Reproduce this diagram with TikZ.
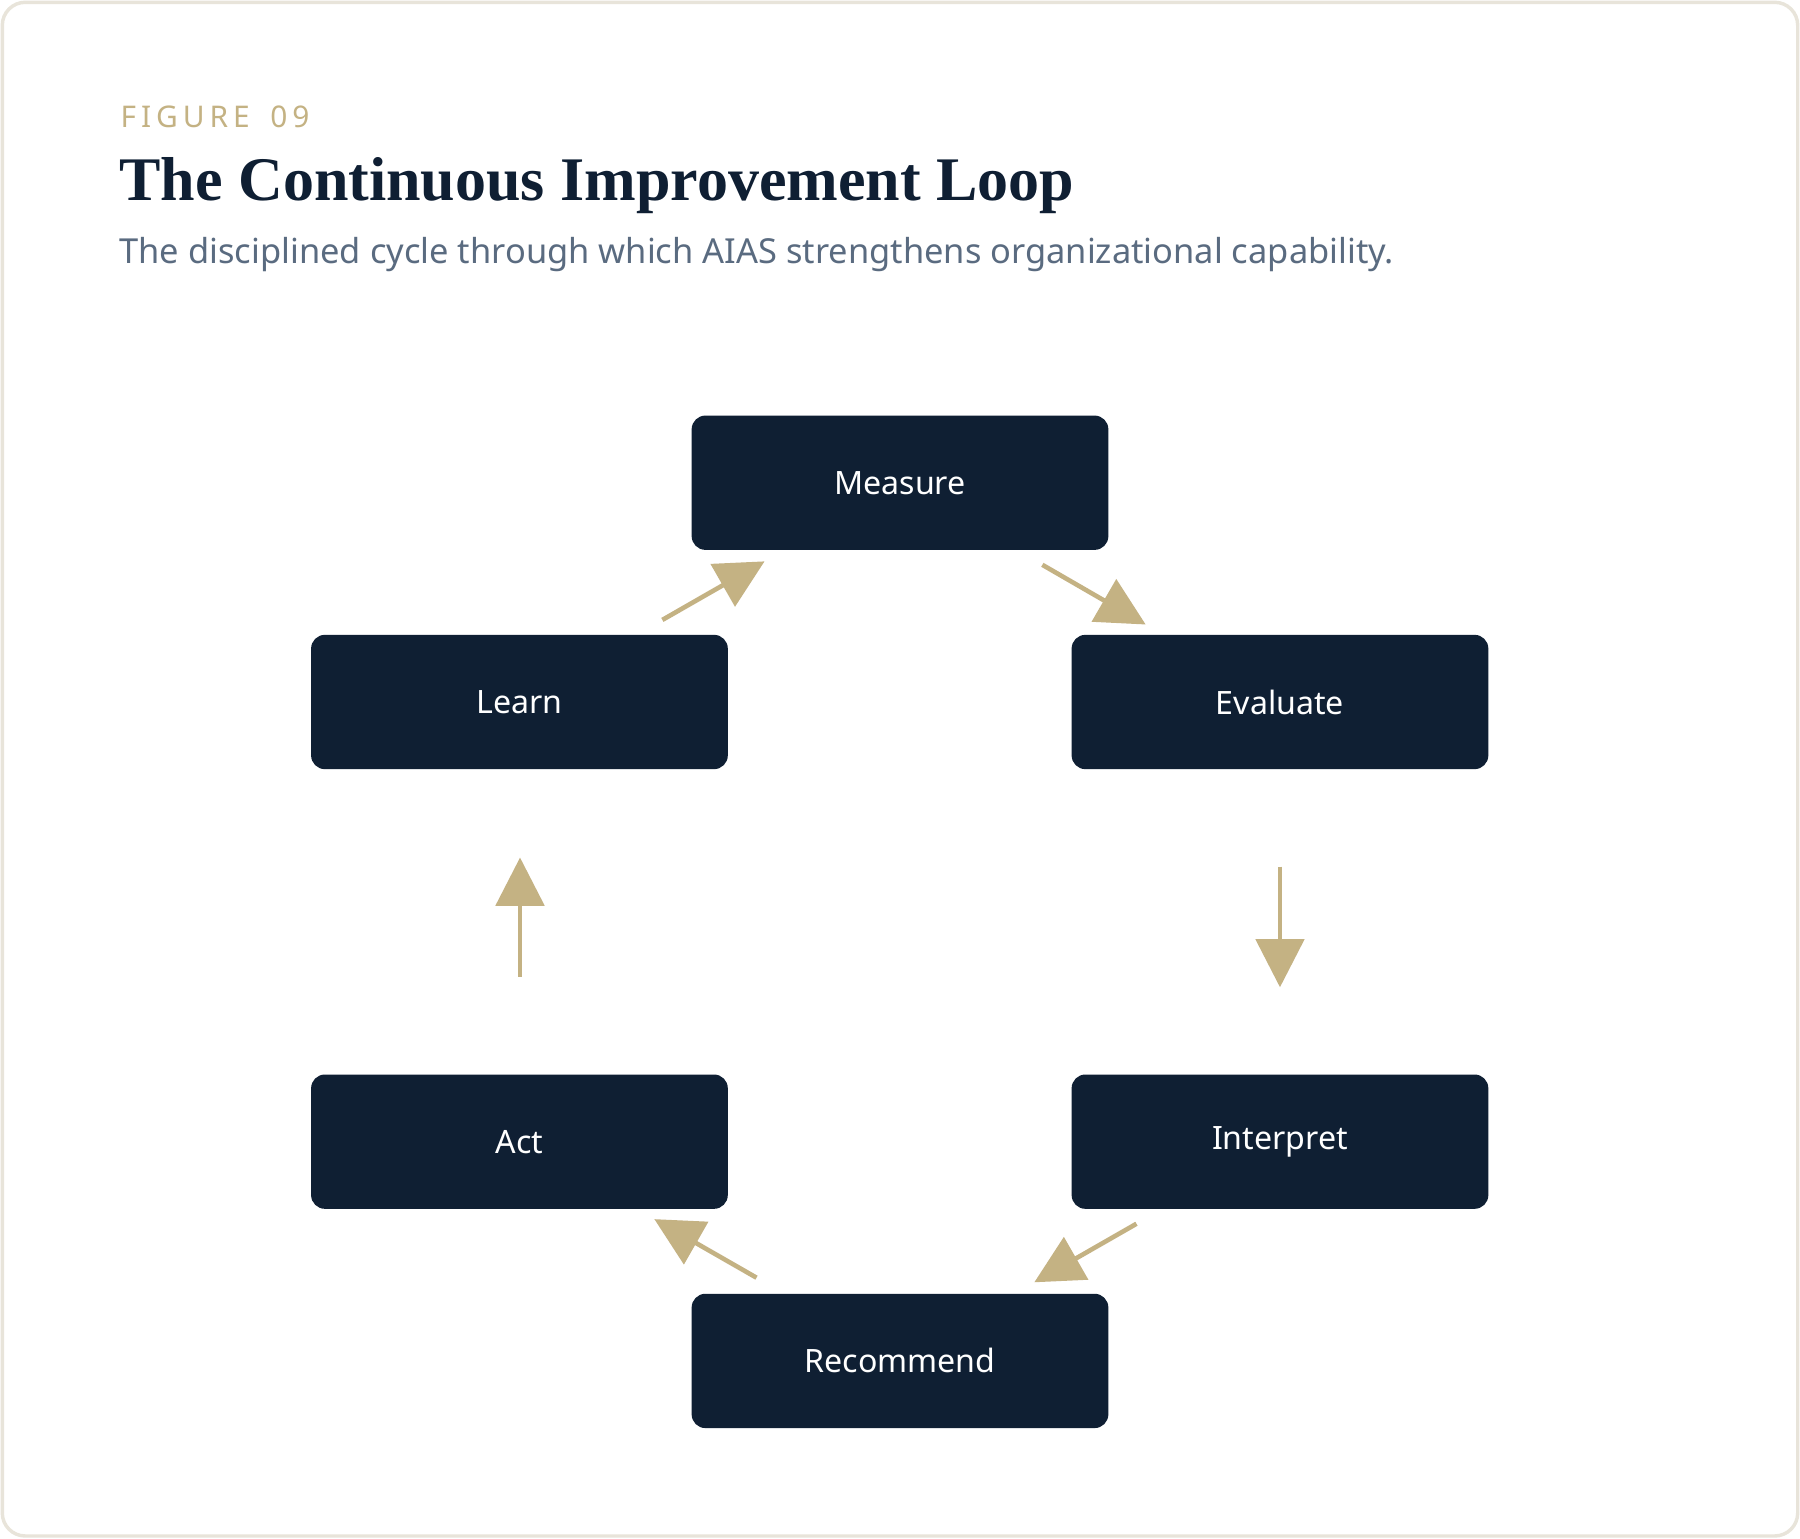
\documentclass[tikz,border=0pt]{standalone}
\usepackage{fontspec}
\setmainfont{Liberation Serif}
\setsansfont{Noto Sans}
\usetikzlibrary{arrows.meta}
\definecolor{navy}{HTML}{0F1F33}
\definecolor{gold}{HTML}{C4B283}
\definecolor{sub}{HTML}{5A6B80}
\definecolor{frame}{HTML}{E8E4DA}
\begin{document}
\begin{tikzpicture}[x=0.5pt,y=-0.5pt,
  box/.style={draw=none,fill=navy,rounded corners=6pt,minimum width=181.5pt,minimum height=58.5pt,text=white,font=\sffamily\bfseries\fontsize{14}{16}\selectfont,inner sep=0pt},
  flow/.style={draw=gold,line width=2pt,-{Triangle[length=21pt,width=21pt]}}]
\useasboundingbox (0,0) rectangle (1568,1340);
\draw[frame,line width=1.5pt,rounded corners=10pt,fill=white] (2,2) rectangle (1566,1338);
\node[anchor=west,text=gold,font=\sffamily\bfseries\fontsize{13}{15}\selectfont] (fig) at (98,102) {F\,I\,G\,U\,R\,E\,\ \ 0\,9};
\node[anchor=west,text=navy,font=\bfseries\fontsize{27}{30}\selectfont] (title) at (97,162) {The Continuous Improvement Loop};
\node[anchor=west,text=sub,font=\sffamily\fontsize{15}{18}\selectfont] (subt) at (97,222) {The disciplined cycle through which AIAS strengthens organizational capability.};
\node[box] (measure) at (784,420.5) {Measure};
\node[box] (learn) at (452.5,611.5) {Learn};
\node[box] (evaluate) at (1115,611.5) {Evaluate};
\node[box] (act) at (452.5,994.5) {Act};
\node[box] (interpret) at (1115,994.5) {Interpret};
\node[box] (recommend) at (784,1185.5) {Recommend};
\coordinate (a1) at (577,540); \coordinate (b1) at (666,489);
\coordinate (a2) at (908,492); \coordinate (b2) at (998,544);
\coordinate (a3) at (1115,755); \coordinate (b3) at (1115,860);
\coordinate (a4) at (990,1066); \coordinate (b4) at (901,1117);
\coordinate (a5) at (659,1113); \coordinate (b5) at (570,1062);
\coordinate (a6) at (453,851); \coordinate (b6) at (453,747);
\draw[flow] (a1) -- (b1);
\draw[flow] (a2) -- (b2);
\draw[flow] (a3) -- (b3);
\draw[flow] (a4) -- (b4);
\draw[flow] (a5) -- (b5);
\draw[flow] (a6) -- (b6);
\end{tikzpicture}
\end{document}
